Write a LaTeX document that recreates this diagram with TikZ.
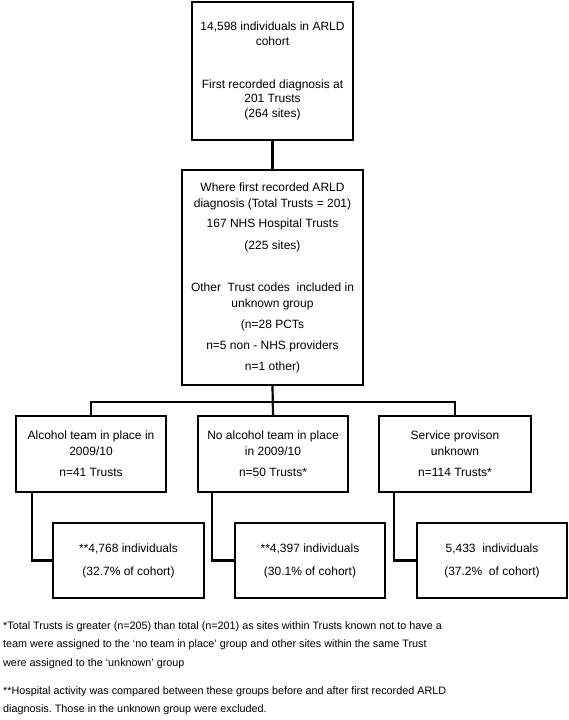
\documentclass[tikz,border=0pt]{standalone}
\usepackage{fontspec}
\setmainfont{Liberation Sans}
\usepackage{tikz}
\frenchspacing
\newcommand{\boxfont}{\fontsize{12}{16}\selectfont}
\newcommand{\notefont}{\fontsize{10.8}{18.5}\selectfont}

\begin{document}
\begin{tikzpicture}[x=1pt,y=-1pt,
 every node/.style={inner sep=0pt},
 flowbox/.style={draw,line width=2.2pt,align=center,font=\boxfont},
 link/.style={line width=2.2pt}]
\useasboundingbox (0,0) rectangle (568,720);
% top of the chart
\node[flowbox,minimum width=161,minimum height=138] (cohort) at (272.5,71)
 {14,598 individuals in ARLD\\[-1.5pt]cohort\\[27pt]First recorded diagnosis at\\[-1.5pt]201 Trusts\\[-1.5pt](264 sites)};
\node[flowbox,minimum width=181,minimum height=215] (where) at (272.5,277.5)
 {Where first recorded ARLD\\diagnosis (Total Trusts = 201)\\[4pt]167 NHS Hospital Trusts\\[6pt](225 sites)\\[26pt]Other\ \ Trust codes\ \ included in\\unknown group\\[5pt](n=28 PCTs\\[5pt]n=5 non - NHS providers\\[5pt]n=1 other)};
% the three groups
\node[flowbox,minimum width=150,minimum height=76] (teamA) at (91,454)
 {Alcohol team in place in\\2009/10\\[5pt]n=41 Trusts};
\node[flowbox,minimum width=150,minimum height=76] (teamB) at (273,454)
 {No alcohol team in place\\in 2009/10\\[5pt]n=50 Trusts*};
\node[flowbox,minimum width=152,minimum height=76] (teamC) at (455,454)
 {Service provison\\unknown\\[5pt]n=114 Trusts*};
\node[flowbox,minimum width=151,minimum height=75] (indA) at (128.5,560.5)
 {**4,768 individuals\\[7pt](32.7\% of cohort)};
\node[flowbox,minimum width=150,minimum height=75] (indB) at (310,560.5)
 {**4,397 individuals\\[7pt](30.1\% of cohort)};
\node[flowbox,minimum width=150,minimum height=75] (indC) at (492,560.5)
 {5,433\ \ individuals\\[7pt](37.2\%\ \ of cohort)};
% connectors
\coordinate (bus) at (273,402);
\draw[link] (cohort.south) -- (where.north);
\draw[link] (where.south) -- (teamB.north);
\draw[link] (teamA.north) |- (bus) -| (teamC.north);
\draw[link] ([xshift=17pt]teamA.south west) |- (indA.west);
\draw[link] ([xshift=15pt]teamB.south west) |- (indB.west);
\draw[link] ([xshift=16pt]teamC.south west) |- (indC.west);
% footnotes
\node[anchor=north west,align=left,font=\notefont] (note1) at (3,621)
 {*Total Trusts is greater (n=205) than total (n=201) as sites within Trusts known not to have a\\
  team were assigned to the ‘no team in place’ group and other sites within the same Trust\\
  were assigned to the ‘unknown’ group};
\node[anchor=north west,align=left,font=\notefont] (note2) at (3,686)
 {**Hospital activity was compared between these groups before and after first recorded ARLD\\
  diagnosis. Those in the unknown group were excluded.};
\end{tikzpicture}
\end{document}
